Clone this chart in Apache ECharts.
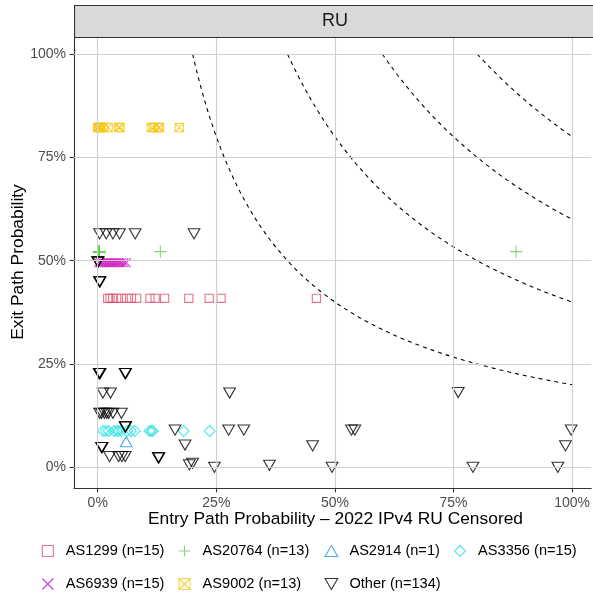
<!DOCTYPE html>
<html>
<head>
<meta charset="utf-8">
<script src="https://cdn.jsdelivr.net/npm/echarts@6/dist/echarts.min.js"></script>
<style>
html,body{margin:0;padding:0;background:#fff;}
#chart{width:593px;height:596px;}
</style>
</head>
<body>
<div id="chart"></div>
<script>
// ---------- data ----------
const xTicks = [0, 0.25, 0.5, 0.75, 1];
const yTicks = [0, 0.25, 0.5, 0.75, 1];
const isoLevels = [0.2, 0.4, 0.6, 0.8];   // dashed guide curves: entry*exit = level

const as1299X = [0.021, 0.026, 0.0315, 0.04, 0.05, 0.061, 0.071, 0.082, 0.11, 0.121, 0.141, 0.192, 0.235, 0.26, 0.461];
const as1299Y = [0.409, 0.409, 0.409, 0.409, 0.409, 0.409, 0.409, 0.409, 0.409, 0.409, 0.409, 0.409, 0.409, 0.409, 0.409];

const as20764X = [0.003, 0.003, 0.003, 0.003, 0.003, 0.003, 0.003, 0.003, 0.003, 0.003, 0.003, 0.132, 0.882];
const as20764Y = [0.522, 0.522, 0.522, 0.522, 0.522, 0.522, 0.522, 0.522, 0.522, 0.522, 0.522, 0.522, 0.522];

const as2914X = [0.06];
const as2914Y = [0.062];

const as3356X = [0.011, 0.017, 0.023, 0.034, 0.04, 0.044, 0.05, 0.062, 0.07, 0.078, 0.109, 0.113, 0.116, 0.181, 0.236];
const as3356Y = [0.088, 0.088, 0.088, 0.088, 0.088, 0.088, 0.088, 0.088, 0.088, 0.088, 0.088, 0.088, 0.088, 0.088, 0.088];

const as6939X = [0.002, 0.006, 0.01, 0.014, 0.018, 0.022, 0.026, 0.03, 0.034, 0.038, 0.042, 0.046, 0.05, 0.055, 0.06];
const as6939Y = [0.495, 0.495, 0.495, 0.495, 0.495, 0.495, 0.495, 0.495, 0.495, 0.495, 0.495, 0.495, 0.495, 0.495, 0.495];

const as9002X = [0.0, 0.002, 0.004, 0.006, 0.012, 0.022, 0.044, 0.047, 0.113, 0.118, 0.128, 0.13, 0.172];
const as9002Y = [0.822, 0.822, 0.822, 0.822, 0.822, 0.822, 0.822, 0.822, 0.822, 0.822, 0.822, 0.822, 0.822];

const otherX = [
  0.004, 0.018, 0.032, 0.046, 0.079, 0.203,
  0.0, 0.0, 0.001,
  0.004, 0.004, 0.005,
  0.004, 0.004, 0.005, 0.003, 0.058, 0.058, 0.059,
  0.011, 0.027, 0.278, 0.76,
  0.004, 0.014, 0.023, 0.032, 0.05, 0.008, 0.019,
  0.058, 0.058, 0.059,
  0.163, 0.276, 0.308, 0.535, 0.542, 0.998,
  0.009, 0.009, 0.008, 0.184, 0.453, 0.986,
  0.025, 0.044, 0.051, 0.058, 0.128, 0.128, 0.129,
  0.193, 0.2, 0.246, 0.362, 0.494, 0.791, 0.97
];
const otherY = [
  0.565, 0.565, 0.565, 0.565, 0.565, 0.565,
  0.497, 0.497, 0.497,
  0.449, 0.449, 0.449,
  0.227, 0.227, 0.227, 0.227, 0.227, 0.227, 0.227,
  0.18, 0.18, 0.18, 0.181,
  0.131, 0.131, 0.131, 0.131, 0.131, 0.131, 0.131,
  0.098, 0.098, 0.098,
  0.09, 0.09, 0.09, 0.09, 0.09, 0.09,
  0.048, 0.048, 0.048, 0.054, 0.052, 0.052,
  0.026, 0.026, 0.026, 0.026, 0.023, 0.023, 0.023,
  0.006, 0.01, 0.0, 0.005, 0.0, 0.0, 0.0
];

const seriesNames = ['AS1299 (n=15)', 'AS20764 (n=13)', 'AS2914 (n=1)', 'AS3356 (n=15)', 'AS6939 (n=15)', 'AS9002 (n=13)', 'Other (n=134)'];
const seriesColors = ['#DF536B', '#61D04F', '#2297E6', '#28E2E5', '#CD0BBC', '#F5C710', '#000000'];

// ---------- styling ----------
const FONT = '"Liberation Sans", Arial, Helvetica, sans-serif';
const symbols = [
  'path://M0,0L10,0L10,10L0,10Z',
  'path://M5,0L5,10M0,5L10,5',
  'path://M5,0L10,8.66L0,8.66Z',
  'path://M5,0L10,5L5,10L0,5Z',
  'path://M0,0L10,10M10,0L0,10',
  'path://M0,0L10,0L10,10L0,10ZM0,0L10,10M10,0L0,10',
  'path://M0,0L10,0L5,8.66Z'
];
const symbolSizes = [[8.2, 8.2], [12.3, 12.3], [11.7, 10.1], [10.9, 10.9], [8.9, 8.9], [8.4, 8.4], [11.7, 10.1]];
const xs = [as1299X, as20764X, as2914X, as3356X, as6939X, as9002X, otherX];
const ys = [as1299Y, as20764Y, as2914Y, as3356Y, as6939Y, as9002Y, otherY];

function zip(a, b) { return a.map((v, i) => [v, b[i]]); }

const chart = echarts.init(document.getElementById('chart'), null, {renderer: 'canvas'});

const series = [];
// grid lines
series.push({
  type: 'scatter', data: [], silent: true, z: 0,
  markLine: {
    silent: true, symbol: 'none', animation: false,
    label: {show: false},
    lineStyle: {color: '#cfcfcf', width: 1.1, type: 'solid'},
    emphasis: {disabled: true},
    data: xTicks.map(v => ({xAxis: v})).concat(yTicks.map(v => ({yAxis: v})))
  }
});
// dashed guide curves
isoLevels.forEach(k => {
  const pts = [];
  const n = 120;
  for (let i = 0; i <= n; i++) {
    const x = k + (1 - k) * i / n;
    pts.push([x, k / x]);
  }
  series.push({
    type: 'line', data: pts, showSymbol: false, symbol: 'none', silent: true, z: 1,
    lineStyle: {color: '#000', width: 1.1, type: [4, 4]}, animation: false
  });
});
// points
seriesNames.forEach((name, i) => {
  series.push({
    name: name, type: 'scatter', z: 3, animation: false,
    data: zip(xs[i], ys[i]),
    symbol: symbols[i], symbolSize: symbolSizes[i],
    itemStyle: {color: 'rgba(0,0,0,0)', borderColor: seriesColors[i], borderWidth: 1.1},
    emphasis: {disabled: true}
  });
});

// legends
const legendCols = [41.8, 178.5, 324.5, 454];
const legendRowsTop = [543.5, 576.5];
const legends = seriesNames.map((name, i) => {
  const row = i < 4 ? 0 : 1;
  const col = i < 4 ? i : i - 4;
  return {
    show: true, left: legendCols[col], top: legendRowsTop[row], padding: 0,
    itemWidth: 26, itemHeight: 11, itemGap: 0, selectedMode: false,
    symbolKeepAspect: true,
    textStyle: {fontFamily: FONT, fontSize: 14.6, color: '#000'},
    data: [{
      name: name, icon: symbols[i],
      itemStyle: {color: 'rgba(0,0,0,0)', borderColor: seriesColors[i], borderWidth: 1.1}
    }]
  };
});

const axisCommon = {
  type: 'value',
  splitLine: {show: false},
  axisLine: {show: true, onZero: false, lineStyle: {color: '#333333', width: 1.1}},
  axisTick: {show: true, length: 4.4, lineStyle: {color: '#333333', width: 1.1}, customValues: xTicks},
  axisLabel: {
    show: true, margin: 8, color: '#4d4d4d', fontFamily: FONT, fontSize: 14,
    customValues: xTicks,
    formatter: v => Math.round(v * 100) + '%'
  }
};

chart.setOption({
  backgroundColor: '#ffffff',
  animation: false,
  grid: {left: 74, right: 0, top: 37, bottom: 108, containLabel: false},
  xAxis: Object.assign({}, axisCommon, {min: -0.05, max: 1.0403}),
  yAxis: Object.assign({}, axisCommon, {
    min: -0.05, max: 1.0412,
    axisTick: Object.assign({}, axisCommon.axisTick, {customValues: yTicks}),
    axisLabel: Object.assign({}, axisCommon.axisLabel, {customValues: yTicks})
  }),
  legend: legends,
  series: series,
  graphic: [
    {type: 'rect', left: 74, top: 5, shape: {x: 0, y: 0, width: 540, height: 32}, z: 10,
     style: {fill: '#d9d9d9', stroke: '#333333', lineWidth: 1.1}},
    {type: 'text', x: 335, y: 21, z: 11,
     style: {text: 'RU', fontFamily: FONT, fontSize: 18, fill: '#1a1a1a', textAlign: 'center', textVerticalAlign: 'middle'}},
    {type: 'text', x: 335.5, y: 519, z: 11,
     style: {text: 'Entry Path Probability \u2013 2022 IPv4 RU Censored', fontFamily: FONT, fontSize: 17.4, fill: '#000', textAlign: 'center', textVerticalAlign: 'middle'}},
    {type: 'text', x: 18, y: 262, rotation: Math.PI / 2, z: 11,
     style: {text: 'Exit Path Probability', fontFamily: FONT, fontSize: 17.4, fill: '#000', textAlign: 'center', textVerticalAlign: 'middle'}}
  ]
});
</script>
</body>
</html>
